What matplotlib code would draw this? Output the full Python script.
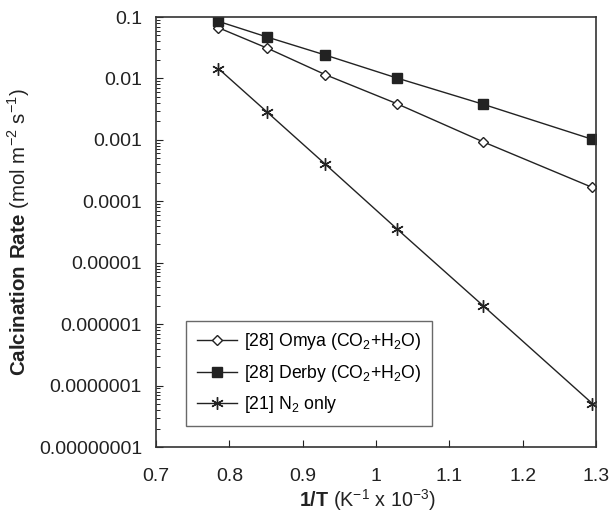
import numpy as np
import matplotlib
matplotlib.use("Agg")
from matplotlib import pyplot as plt
from matplotlib.ticker import FixedLocator, LogLocator, NullFormatter

plt.rcParams['font.family'] = ['Liberation Sans', 'DejaVu Sans']
plt.rcParams['mathtext.fontset'] = 'custom'
plt.rcParams['mathtext.rm'] = 'Liberation Sans'
plt.rcParams['mathtext.bf'] = 'Liberation Sans:bold'

# data
inv_T = [0.785, 0.852, 0.931, 1.028, 1.146, 1.295]
omya = [0.067, 0.031, 0.0115, 0.0039, 0.00093, 0.000168]
derby = [0.085, 0.047, 0.024, 0.0102, 0.0038, 0.00102]
n2_only = [0.0145, 0.0028, 0.0004, 3.6e-5, 2.0e-6, 5.1e-8]

y_ticks = [1e-1, 1e-2, 1e-3, 1e-4, 1e-5, 1e-6, 1e-7, 1e-8]
y_labels = ["0.1", "0.01", "0.001", "0.0001", "0.00001", "0.000001",
            "0.0000001", "0.00000001"]
x_ticks = [0.7, 0.8, 0.9, 1.0, 1.1, 1.2, 1.3]
x_labels = ["0.7", "0.8", "0.9", "1", "1.1", "1.2", "1.3"]

fig = plt.figure(figsize=(6.09, 5.12), dpi=100)
ax = fig.add_axes([156/609, 1 - 447/512, 440/609, 430/512])

ax.plot(inv_T, omya, color='#222222', lw=1, marker='D', ms=5.5,
        mfc='white', mec='#222222', mew=1,
        label=r'[28] Omya (CO$_2$+H$_2$O)')
ax.plot(inv_T, derby, color='#222222', lw=1, marker='s', ms=6.5,
        mfc='#222222', mec='#222222',
        label=r'[28] Derby (CO$_2$+H$_2$O)')
ax.plot(inv_T, n2_only, color='#222222', lw=1, marker=(6, 2, 0), ms=9,
        mec='#222222', mew=1,
        label=r'[21] N$_2$ only')

ax.set_yscale('log')
ax.set_xlim(0.7, 1.3)
ax.set_ylim(1e-8, 0.1)
ax.xaxis.set_major_locator(FixedLocator(x_ticks))
ax.set_xticklabels(x_labels)
ax.set_yticks(y_ticks)
ax.set_yticklabels(y_labels)
ax.yaxis.set_minor_locator(LogLocator(base=10, subs=np.arange(2, 10)))
ax.yaxis.set_minor_formatter(NullFormatter())

ax.tick_params(axis='both', which='major', direction='in', length=5,
               labelsize=14, colors='#222222')
ax.tick_params(axis='y', which='major', pad=10)
ax.tick_params(axis='x', which='major', pad=15)
ax.tick_params(axis='y', which='minor', direction='in', length=3)
ax.tick_params(top=False, right=False)
for s in ax.spines.values():
    s.set_color('#333333')
    s.set_linewidth(1.2)

ax.set_xlabel(r'$\mathbf{1/T}$ (K$^{-1}$ x 10$^{-3}$)', fontsize=14.2,
              color='#222222')
ax.xaxis.set_label_coords(0.48, -0.093)
ax.set_ylabel(r'$\mathbf{Calcination\ Rate}$ (mol m$^{-2}$ s$^{-1}$)',
              fontsize=14.8, color='#222222', labelpad=5)

leg = ax.legend(loc='lower left', bbox_to_anchor=(0.068, 0.049),
                borderaxespad=0, fontsize=12.7, frameon=True,
                fancybox=False, edgecolor='#444444', handlelength=2.3,
                handletextpad=0.4, labelspacing=0.6, borderpad=0.6)
leg.get_frame().set_linewidth(1)

fig.savefig("out.png", dpi=100)
